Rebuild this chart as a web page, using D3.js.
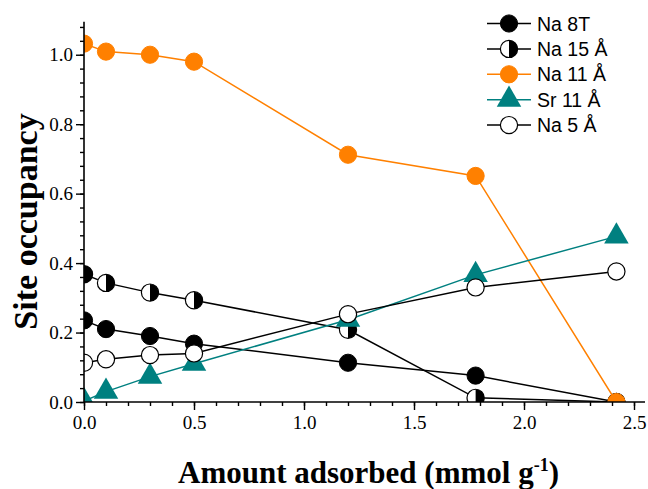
<!DOCTYPE html>
<html>
<head>
<meta charset="utf-8">
<script src="https://cdn.jsdelivr.net/npm/d3@7"></script>
<style>
  html, body { margin: 0; padding: 0; background: #fff; }
  svg { display: block; }
</style>
</head>
<body>
<svg id="chart" width="648" height="489"></svg>
<script>
// Amount adsorbed (mmol/g) at each measurement
const amounts = [0, 0.1, 0.3, 0.5, 1.2, 1.78, 2.42];

// Site occupancy per series
const na8T  = [0.235, 0.21, 0.19, 0.168, 0.113, 0.076, 0.0];
const na15  = [0.368, 0.343, 0.315, 0.293, 0.208, 0.012, 0.0];
const na11  = [1.032, 1.009, 1.0, 0.98, 0.712, 0.651, 0.0];
const sr11  = [0.003, 0.03, 0.073, 0.11, 0.237, 0.366, 0.477];
const na5   = [0.113, 0.123, 0.135, 0.14, 0.253, 0.33, 0.376];

const seriesNames = ["Na 8T", "Na 15 Å", "Na 11 Å", "Sr 11 Å", "Na 5 Å"];
const seriesValues = [na8T, na15, na11, sr11, na5];
const seriesColors = ["#000000", "#000000", "#FF8000", "#008080", "#000000"];
const seriesMarkers = ["filled", "half", "filled", "triangle", "open"];

const xTicks = [0, 0.5, 1.0, 1.5, 2.0, 2.5];
const yTicks = [0, 0.2, 0.4, 0.6, 0.8, 1.0];

const svg = d3.select("#chart");
const W = 648, H = 489;
const mLeft = 84, mBottom = 402, mRight = 645, mTop = 20;

const x = d3.scaleLinear().domain([0, 2.55]).range([mLeft, mRight]);
const y = d3.scaleLinear().domain([0, 1.1]).range([mBottom, mTop]);

// plot clip region
svg.append("defs").append("clipPath").attr("id", "plotClip")
  .append("rect")
  .attr("x", mLeft).attr("y", 0)
  .attr("width", W - mLeft).attr("height", mBottom);

const R = 8.6;
const plot = svg.append("g").attr("clip-path", "url(#plotClip)");

function drawMarker(g, kind, color, cx, cy) {
  if (kind === "filled") {
    g.append("circle").attr("cx", cx).attr("cy", cy).attr("r", R)
      .attr("fill", color).attr("stroke", color).attr("stroke-width", 1);
  } else if (kind === "open") {
    g.append("circle").attr("cx", cx).attr("cy", cy).attr("r", R)
      .attr("fill", "#fff").attr("stroke", color).attr("stroke-width", 1.2);
  } else if (kind === "half") {
    g.append("circle").attr("cx", cx).attr("cy", cy).attr("r", R)
      .attr("fill", "#fff").attr("stroke", color).attr("stroke-width", 1.2);
    const p = d3.path();
    p.moveTo(cx, cy - R);
    p.arc(cx, cy, R, -Math.PI / 2, Math.PI / 2, false);
    p.closePath();
    g.append("path").attr("d", p.toString()).attr("fill", color);
  } else if (kind === "triangle") {
    const s = d3.symbol().type(d3.symbolTriangle).size(260);
    g.append("path").attr("d", s())
      .attr("transform", `translate(${cx},${cy})`)
      .attr("fill", color);
  }
}

const line = d3.line().x(d => x(d[0])).y(d => y(d[1]));

seriesValues.forEach((vals, i) => {
  const pts = amounts.map((a, k) => [a, vals[k]]);
  const g = plot.append("g");
  g.append("path").datum(pts).attr("d", line)
    .attr("fill", "none").attr("stroke", seriesColors[i]).attr("stroke-width", 1.5);
  pts.forEach(p => drawMarker(g, seriesMarkers[i], seriesColors[i], x(p[0]), y(p[1])));
});

// axes
const fontSerif = "'Liberation Serif', 'Times New Roman', serif";

const xAxisMinor = d3.axisBottom(x).tickValues(d3.range(0, 25.5, 1).map(v => v / 10))
  .tickSize(4).tickFormat("");
const xAxisMajor = d3.axisBottom(x).tickValues(xTicks).tickSize(8).tickPadding(6)
  .tickFormat(d3.format(".1f"));
const yAxisMinor = d3.axisLeft(y).tickValues(d3.range(0, 28, 1).map(v => v * 0.04))
  .tickSize(4).tickFormat("");
const yAxisMajor = d3.axisLeft(y).tickValues(yTicks).tickSize(8).tickPadding(3)
  .tickFormat(d3.format(".1f"));

function styleAxis(g) {
  g.select(".domain").attr("stroke", "#000").attr("stroke-width", 1.6);
  g.selectAll(".tick line").attr("stroke", "#000").attr("stroke-width", 1.4);
  g.selectAll(".tick text").attr("fill", "#000")
    .style("font-family", fontSerif).style("font-size", "19px");
}

svg.append("g").attr("transform", `translate(0,${mBottom})`).call(xAxisMinor).call(styleAxis)
  .select(".domain").attr("d", `M${mLeft},0H${mRight}`);
svg.append("g").attr("transform", `translate(0,${mBottom})`).call(xAxisMajor).call(styleAxis)
  .select(".domain").remove();
svg.append("g").attr("transform", `translate(${mLeft},0)`).call(yAxisMinor).call(styleAxis)
  .select(".domain").attr("d", `M0,${y(1.095)}V${mBottom}`);
svg.append("g").attr("transform", `translate(${mLeft},0)`).call(yAxisMajor).call(styleAxis)
  .select(".domain").remove();

// axis titles
const xt = svg.append("text")
  .attr("x", 178).attr("y", 483)
  .style("font-family", fontSerif).style("font-weight", "bold").style("font-size", "31px")
  .attr("fill", "#000");
xt.append("tspan").text("Amount adsorbed (mmol g");
xt.append("tspan").attr("dy", -12).style("font-size", "18px").text("-1");
xt.append("tspan").attr("dy", 12).text(")");

svg.append("text")
  .attr("transform", `translate(37,${(110 + 333) / 2}) rotate(-90)`)
  .attr("text-anchor", "middle")
  .style("font-family", fontSerif).style("font-weight", "bold").style("font-size", "34px")
  .attr("fill", "#000")
  .text("Site occupancy");

// legend
const legend = svg.append("g");
seriesNames.forEach((name, i) => {
  const cy = 23.5 + i * 25.4;
  const g = legend.append("g");
  g.append("line").attr("x1", 487).attr("x2", 531).attr("y1", cy).attr("y2", cy)
    .attr("stroke", seriesColors[i]).attr("stroke-width", 1.5);
  drawMarker(g, seriesMarkers[i], seriesColors[i], 509, cy);
  g.append("text").attr("x", 537).attr("y", cy + 7)
    .style("font-family", "'Liberation Sans', Arial, sans-serif").style("font-size", "19.5px")
    .attr("fill", "#000").text(name);
});
</script>
</body>
</html>
